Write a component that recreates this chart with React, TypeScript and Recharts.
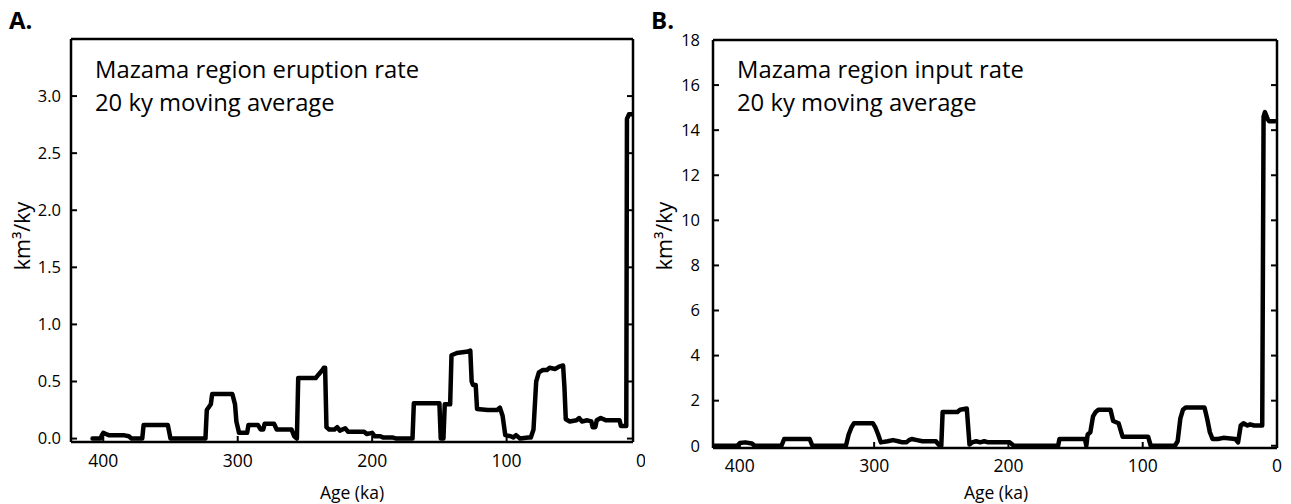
import React from 'react';
import { LineChart, Line, XAxis, YAxis } from 'recharts';

// Panel A: Mazama region eruption rate (km3/ky) vs age (ka)
const agesA = [408, 402, 401, 400, 398, 396, 385, 381, 379, 371, 370, 352, 350, 324, 323, 320, 319, 304, 302, 301, 299, 293, 292, 285, 283, 281, 280, 273, 271, 260, 258, 256, 255, 242, 240, 237, 236, 235, 234, 232, 228, 226, 224, 220, 218, 206, 204, 200, 198, 194, 192, 185, 182, 170, 169, 150, 149, 147, 146, 142, 141, 137, 130, 127, 126, 125, 123, 122, 114, 107, 105, 103, 101, 97, 95, 93, 90, 84, 82, 80, 78, 76, 73, 70, 68, 64, 61, 58, 57, 56, 53, 48, 46, 44, 40, 37, 36, 34, 33, 30, 26, 16, 15, 11, 10.5, 9, 6];
const ratesA = [0, 0, 0.03, 0.05, 0.04, 0.03, 0.03, 0.02, 0, 0, 0.12, 0.12, 0, 0, 0.25, 0.3, 0.39, 0.39, 0.3, 0.15, 0.05, 0.05, 0.12, 0.12, 0.08, 0.08, 0.13, 0.13, 0.08, 0.08, 0.02, 0, 0.53, 0.53, 0.56, 0.6, 0.62, 0.62, 0.1, 0.08, 0.08, 0.1, 0.07, 0.09, 0.06, 0.06, 0.04, 0.05, 0.02, 0.02, 0.01, 0.01, 0, 0, 0.31, 0.31, 0, 0, 0.3, 0.3, 0.73, 0.75, 0.76, 0.77, 0.5, 0.47, 0.47, 0.26, 0.25, 0.25, 0.27, 0.2, 0.03, 0.02, 0.01, 0.03, 0, 0.01, 0.01, 0.08, 0.5, 0.58, 0.6, 0.6, 0.62, 0.61, 0.63, 0.64, 0.45, 0.17, 0.15, 0.16, 0.18, 0.15, 0.16, 0.15, 0.1, 0.1, 0.16, 0.18, 0.16, 0.16, 0.11, 0.11, 2.8, 2.84, 2.84];

// Panel B: Mazama region input rate (km3/ky) vs age (ka)
const agesB = [420, 402, 400, 396, 391, 389, 369, 367, 348, 346, 321, 319, 317, 315, 301, 299, 297, 295, 290, 286, 282, 279, 276, 274, 272, 268, 264, 254, 252, 250, 249, 238, 236, 231, 229, 227, 224, 221, 218, 215, 199, 196, 163, 162, 143, 142, 141, 139, 137, 135, 133, 124, 122, 118, 117, 115, 96, 94, 76, 74, 72, 70, 68, 54, 52, 50, 48, 44, 40, 31, 29, 27, 25, 22, 20, 17, 11, 10, 9, 7, 6, 1.5];
const ratesB = [0, 0, 0.12, 0.15, 0.1, 0, 0, 0.3, 0.3, 0, 0, 0.5, 0.8, 1.0, 1.0, 0.8, 0.5, 0.15, 0.2, 0.25, 0.2, 0.15, 0.15, 0.25, 0.3, 0.25, 0.2, 0.2, 0.05, 0, 1.5, 1.5, 1.6, 1.65, 0.05, 0.15, 0.2, 0.15, 0.2, 0.15, 0.15, 0, 0, 0.3, 0.3, 0, 0.5, 0.6, 1.3, 1.5, 1.6, 1.6, 1.1, 1.0, 0.8, 0.4, 0.4, 0, 0, 0.2, 1.2, 1.6, 1.7, 1.7, 1.2, 0.6, 0.3, 0.3, 0.35, 0.3, 0.15, 0.9, 1.0, 0.9, 0.95, 0.9, 0.9, 14.6, 14.8, 14.5, 14.4, 14.4];

const xTicks = [0, 100, 200, 300, 400];
const yTicksA = [0, 0.5, 1.0, 1.5, 2.0, 2.5, 3.0];
const yTicksB = [0, 2, 4, 6, 8, 10, 12, 14, 16, 18];

const dataA = agesA.map((age, i) => ({ age, rate: ratesA[i] }));
const dataB = agesB.map((age, i) => ({ age, rate: ratesB[i] }));

const FONT = '"Open Sans", "DejaVu Sans", sans-serif';
const TICK_LEN = 6;

const makeLeftTick = (margin: number, digits: number) => (props: any) => {
  const { x, y, payload } = props;
  return (
    <g>
      <line x1={x + margin} x2={x + margin + TICK_LEN} y1={y} y2={y} stroke="#000" strokeWidth={2} />
      <text x={x} y={y} dy="0.35em" textAnchor="end" fontSize={16.5} fontFamily={FONT} fill="#000">
        {Number(payload.value).toFixed(digits)}
      </text>
    </g>
  );
};

const RightTick = (props: any) => {
  const { x, y } = props;
  return <line x1={x - TICK_LEN} x2={x} y1={y} y2={y} stroke="#000" strokeWidth={2} />;
};

const makeBottomTick = (margin: number, lo: number, hi: number) => (props: any) => {
  const { x, y, payload } = props;
  const inside = payload.value >= lo && payload.value <= hi;
  return (
    <g>
      {inside && <line x1={x} x2={x} y1={y - margin - TICK_LEN} y2={y - margin} stroke="#000" strokeWidth={2} />}
      <text x={x} y={y} dy="0.71em" textAnchor="middle" fontSize={17.5} fontFamily={FONT} fill="#000">
        {payload.value}
      </text>
    </g>
  );
};

const axisStroke = { stroke: '#000', strokeWidth: 2.5 };

function Panel(props: {
  data: { age: number; rate: number }[];
  xDomain: [number, number];
  yDomain: [number, number];
  yTicks: number[];
  digits: number;
  box: { top: number; right: number; bottom: number; left: number };
  leftGap: number;
  bottomGap: number;
}) {
  const { data, xDomain, yDomain, yTicks, digits, box, leftGap, bottomGap } = props;
  // each axis takes 1px, so shift margins to keep the plot box where wanted
  const margin = { top: box.top - 1, right: box.right - 1, bottom: box.bottom - 1, left: box.left - 1 };
  return (
    <LineChart width={645} height={504} data={data} margin={margin}>
      <XAxis
        xAxisId="b"
        dataKey="age"
        type="number"
        domain={xDomain}
        allowDataOverflow
        reversed
        ticks={xTicks}
        interval={0}
        height={1}
        tickSize={0}
        tickMargin={bottomGap}
        axisLine={axisStroke}
        tickLine={false}
        tick={makeBottomTick(bottomGap, xDomain[0], xDomain[1])}
      />
      <XAxis
        xAxisId="t"
        dataKey="age"
        type="number"
        orientation="top"
        domain={xDomain}
        allowDataOverflow
        reversed
        height={1}
        tick={false}
        tickLine={false}
        axisLine={axisStroke}
      />
      <YAxis
        yAxisId="l"
        type="number"
        domain={yDomain}
        allowDataOverflow
        ticks={yTicks}
        interval={0}
        width={1}
        tickSize={0}
        tickMargin={leftGap}
        axisLine={axisStroke}
        tickLine={false}
        tick={makeLeftTick(leftGap, digits)}
      />
      <YAxis
        yAxisId="r"
        type="number"
        orientation="right"
        domain={yDomain}
        allowDataOverflow
        ticks={yTicks}
        interval={0}
        width={1}
        tickSize={0}
        tickMargin={0}
        axisLine={axisStroke}
        tickLine={false}
        tick={RightTick}
      />
      <Line
        xAxisId="b"
        yAxisId="l"
        type="linear"
        dataKey="rate"
        stroke="#000"
        strokeWidth={4.5}
        strokeLinejoin="round"
        strokeLinecap="round"
        dot={false}
        activeDot={false}
        isAnimationActive={false}
      />
    </LineChart>
  );
}

const abs = (left: number, top: number, extra: React.CSSProperties = {}): React.CSSProperties => ({
  position: 'absolute',
  left,
  top,
  fontFamily: FONT,
  color: '#000',
  whiteSpace: 'nowrap',
  lineHeight: 1,
  ...extra,
});

export default function App() {
  return (
    <div style={{ position: 'absolute', left: 0, top: 0, width: 1291, height: 504, background: '#fff', overflow: 'hidden' }}>
      <div style={{ position: 'absolute', left: 0, top: 0 }}>
        <Panel
          data={dataA}
          xDomain={[6, 424]}
          yDomain={[-0.03, 3.5]}
          yTicks={yTicksA}
          digits={1}
          box={{ top: 39, right: 12, bottom: 62, left: 71 }}
          leftGap={10}
          bottomGap={13}
        />
      </div>
      <div style={{ position: 'absolute', left: 645, top: 0 }}>
        <Panel
          data={dataB}
          xDomain={[0, 420]}
          yDomain={[-0.1, 18]}
          yTicks={yTicksB}
          digits={0}
          box={{ top: 40, right: 13, bottom: 56, left: 68 }}
          leftGap={13}
          bottomGap={12}
        />
      </div>

      <div style={abs(9, 8, { fontSize: 24, fontWeight: 700 })}>A.</div>
      <div style={abs(651, 8, { fontSize: 24, fontWeight: 700 })}>B.</div>

      <div style={abs(95, 53, { fontSize: 23.8, lineHeight: '33px' })}>
        Mazama region eruption rate
        <br />
        20 ky moving average
      </div>
      <div style={abs(737, 53, { fontSize: 23.8, lineHeight: '33px' })}>
        Mazama region input rate
        <br />
        20 ky moving average
      </div>

      <div style={abs(22, 236, { fontSize: 21.5, transform: 'translate(-50%, -50%) rotate(-90deg)' })}>
        km³/ky
      </div>
      <div style={abs(664, 236, { fontSize: 21.5, transform: 'translate(-50%, -50%) rotate(-90deg)' })}>
        km³/ky
      </div>

      <div style={abs(352, 493, { fontSize: 17.5, transform: 'translate(-50%, -50%)' })}>Age (ka)</div>
      <div style={abs(996, 493, { fontSize: 17.5, transform: 'translate(-50%, -50%)' })}>Age (ka)</div>
    </div>
  );
}
